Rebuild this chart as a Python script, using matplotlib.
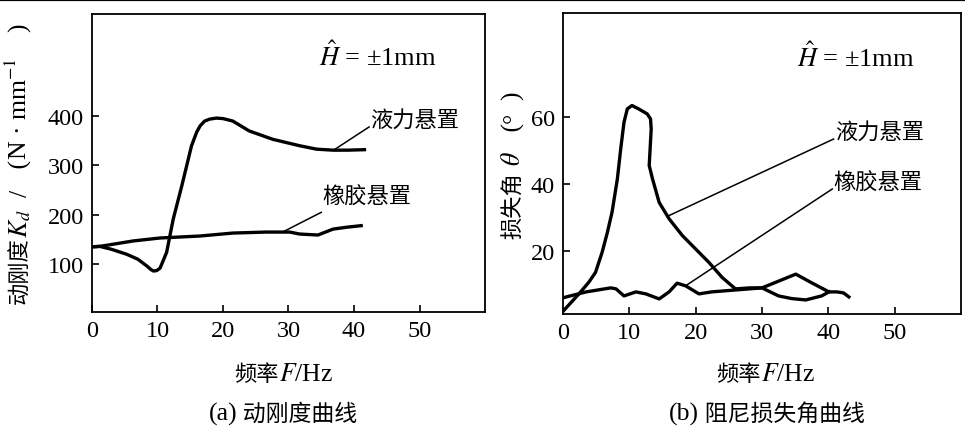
import math
import matplotlib
matplotlib.use("Agg")
import matplotlib.pyplot as plt

plt.rcParams['font.family'] = ['Liberation Serif', 'Noto Sans CJK SC', 'DejaVu Sans']
plt.rcParams['mathtext.fontset'] = 'stix'

# (a) dynamic stiffness, N/mm
hyd_f_a = [0, 1.2, 3, 5.3, 7, 8.4, 9.0, 9.4, 9.9, 10.4, 11.4, 12.4, 13.7, 15.2, 16.0,
           16.5, 17.2, 18, 19, 20, 21.5, 24, 27.6, 31.7, 34.3, 36.8, 39, 41.6]
hyd_k_a = [135, 136, 130, 120, 110, 96, 89, 86, 87, 92, 124, 191, 258, 340, 368,
           380, 390, 394, 396, 395, 390, 370, 353, 340, 333, 331, 331, 332]
rub_f_a = [0, 1.2, 6.3, 10.4, 16.5, 21.5, 26.6, 29, 30.2, 31.7, 34.5, 36.8, 39, 41.1]
rub_k_a = [135, 136, 147, 153, 157, 163, 165, 165, 165, 161, 159, 171, 175, 178]

# (b) loss angle, deg
hyd_f_b = [0, 2.4, 3.9, 4.9, 5.9, 6.7, 7.4, 8.2, 8.7, 9.2, 9.7, 10.4, 11.4, 12.7,
           13.2, 13.3, 13.0, 13.5, 14.5, 16, 18, 20, 22, 24, 26, 28.2, 30, 32.5,
           35.1, 37.5, 40.1, 41.3, 42.3, 43.1]
hyd_t_b = [2, 7.2, 10.7, 13.6, 19.6, 25.6, 31.6, 41.5, 50.4, 58.4, 62.4, 63.4, 62.4,
           60.9, 59.4, 56.4, 45.5, 41.5, 34.5, 29.6, 24.6, 20.6, 16.6, 12.1, 8.7,
           9, 9, 11, 13.1, 10.5, 7.8, 7.8, 7.5, 6.3]
rub_f_b = [0, 0.5, 3.5, 7.2, 8, 9.2, 11, 12.5, 14.5, 16, 17.2, 18.5, 20.5, 22.4,
           26.2, 30, 32.5, 34.5, 36.6, 39, 40.1]
rub_t_b = [6, 6.3, 7.8, 9, 8.7, 6.6, 7.8, 7.2, 5.7, 7.8, 10.4, 9.6, 7.2, 7.8,
           8.4, 9, 6.6, 5.8, 5.4, 6.6, 7.8]

xticks = [0, 10, 20, 30, 40, 50]
yticks_a = [100, 200, 300, 400]
yticks_b = [20, 40, 60]

W, H = 965, 431
fig = plt.figure(figsize=(W / 100, H / 100), dpi=100)
ax1 = fig.add_axes([0.0953, 0.2738, 0.4073, 0.6914])
ax2 = fig.add_axes([0.5834, 0.2691, 0.4124, 0.6984])

CJK = 16     # size of Chinese text
LAT = 18.5   # size of latin / number text

lw = 2.4
for ax in (ax1, ax2):
    for s in ax.spines.values():
        s.set_linewidth(1.3)
    ax.tick_params(direction='in', length=5, width=1.2, labelsize=17.5, pad=6)
    ax.set_xticks(xticks)
    ax.set_xlim(0, 60)

ax1.plot(hyd_f_a, hyd_k_a, color='black', lw=lw, solid_joinstyle='round')
ax1.plot(rub_f_a, rub_k_a, color='black', lw=lw, solid_joinstyle='round')
ax1.set_ylim(3, 607)
ax1.set_yticks(yticks_a)
ax1.plot([37, 42.3], [332, 378], color='black', lw=1.1)
ax1.text(42.5, 392, '液力悬置', fontsize=CJK, va='center', ha='left')
ax1.plot([29.1, 35], [165, 205], color='black', lw=1.1)
ax1.text(35.2, 236, '橡胶悬置', fontsize=CJK, va='center', ha='left')
ax1.text(34.7, 524, r'$\hat{H}$ = ±1mm', fontsize=19, va='center', ha='left')

ax2.plot(hyd_f_b, hyd_t_b, color='black', lw=lw, solid_joinstyle='round')
ax2.plot(rub_f_b, rub_t_b, color='black', lw=lw, solid_joinstyle='round')
ax2.set_ylim(1.2, 91)
ax2.set_yticks(yticks_b)
ax2.plot([15.8, 40.8], [30.4, 53.4], color='black', lw=1.1)
ax2.text(41, 55.5, '液力悬置', fontsize=CJK, va='center', ha='left')
ax2.plot([18.7, 40.6], [9.9, 38.5], color='black', lw=1.1)
ax2.text(40.8, 40.3, '橡胶悬置', fontsize=CJK, va='center', ha='left')
ax2.text(35.3, 78, r'$\hat{H}$ = ±1mm', fontsize=19, va='center', ha='left')


def chain(pieces, cx, cy, rot):
    # lay (text, size) pieces one after another so CJK and math can be mixed
    r = fig.canvas.get_renderer()
    widths = []
    for s, size in pieces:
        t = fig.text(0, 0, s, fontsize=size)
        widths.append(t.get_window_extent(r).width)
        t.remove()
    total = sum(widths)
    dx, dy = math.cos(math.radians(rot)), math.sin(math.radians(rot))
    em = CJK * 100 / 72 * 0.36
    # shift the baseline so the glyphs are centred on (cx, cy)
    bx = cx + dy * em
    by = cy - dx * em
    x0, y0 = bx - dx * total / 2, by - dy * total / 2
    pos = 0
    for (s, size), w in zip(pieces, widths):
        fig.text((x0 + dx * pos) / W, (y0 + dy * pos) / H, s, fontsize=size,
                 rotation=rot, rotation_mode='anchor', ha='left', va='baseline')
        pos += w


chain([('频率', CJK), (r'$F$/Hz', LAT)], 284, H - 373, 0)
chain([('频率', CJK), (r'$F$/Hz', LAT)], 766, H - 373, 0)
chain([('动刚度', CJK), (r'$K_{d}$  /', LAT), ('   (', LAT), (r'N · mm$^{-1}$', LAT),
       ('    )', LAT)], 19, H - 164, 90)
chain([('损失角', CJK), (r' $\theta$', LAT), ('   (', LAT), ('°', LAT), ('  )', LAT)],
      512, H - 165, 90)
chain([('(a)', LAT), (' 动刚度曲线', 16.5)], 283, H - 413, 0)
chain([('(b)', LAT), (' 阻尼损失角曲线', 16.5)], 767, H - 413, 0)

# rule across the top of the page
fig.add_artist(plt.Line2D([0, 1], [0.998, 0.998], color='black', lw=1.6,
                          transform=fig.transFigure))

fig.savefig('out.png', dpi=100)
